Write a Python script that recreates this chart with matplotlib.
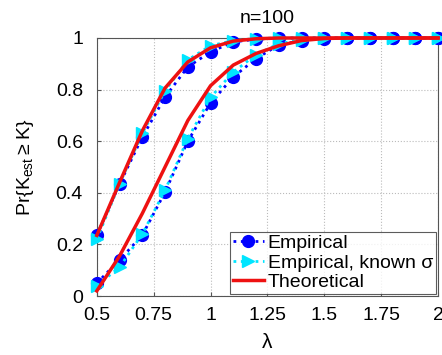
import numpy as np
import matplotlib
matplotlib.use("Agg")
import matplotlib.pyplot as plt

plt.rcParams['font.family'] = ['Liberation Sans', 'DejaVu Sans']
plt.rcParams['mathtext.fontset'] = 'custom'
plt.rcParams['mathtext.rm'] = 'Liberation Sans'

lam = [0.5, 0.6, 0.7, 0.8, 0.9, 1.0, 1.1, 1.2, 1.3, 1.4, 1.5, 1.6, 1.7, 1.8, 1.9, 2.0]

emp_a = [0.236, 0.434, 0.616, 0.771, 0.888, 0.946, 0.985, 0.995, 0.999, 1, 1, 1, 1, 1, 1, 1]
known_a = [0.22, 0.435, 0.63, 0.795, 0.915, 0.97, 0.99, 0.998, 1, 1, 1, 1, 1, 1, 1, 1]
theo_a = [0.235, 0.44, 0.64, 0.806, 0.907, 0.962, 0.988, 0.997, 1, 1, 1, 1, 1, 1, 1, 1]

emp_b = [0.05, 0.14, 0.236, 0.403, 0.60, 0.748, 0.849, 0.92, 0.973, 0.99, 0.998, 1, 1, 1, 1, 1]
known_b = [0.04, 0.112, 0.24, 0.41, 0.61, 0.77, 0.868, 0.935, 0.978, 0.993, 0.999, 1, 1, 1, 1, 1]
theo_b = [0.02, 0.155, 0.32, 0.50, 0.68, 0.815, 0.895, 0.94, 0.97, 0.99, 0.998, 1, 1, 1, 1, 1]

xticks = [0.5, 0.75, 1, 1.25, 1.5, 1.75, 2]
xticklabels = ['0.5', '0.75', '1', '1.25', '1.5', '1.75', '2']
yticks = [0, 0.2, 0.4, 0.6, 0.8, 1]
yticklabels = ['0', '0.2', '0.4', '0.6', '0.8', '1']

fig = plt.figure(figsize=(4.42, 3.55), dpi=100)
ax = fig.add_axes([0.219, 0.166, 0.772, 0.727])

blue = '#0000ff'
cyan = '#00e5ff'
red = '#ee1111'

for emp, known, theo, lbl in [(emp_a, known_a, theo_a, True), (emp_b, known_b, theo_b, False)]:
    ax.plot(lam, emp, linestyle=':', color=blue, lw=2, marker='o', ms=8.5,
            mfc=blue, mec=blue, clip_on=False, zorder=3,
            label='Empirical' if lbl else None)
    ax.plot(lam, known, linestyle=':', color=cyan, lw=2, marker='>', ms=8.5,
            mfc=cyan, mec=cyan, clip_on=False, zorder=4,
            label='Empirical, known σ' if lbl else None)
    ax.plot(lam, theo, linestyle='-', color=red, lw=2.5, clip_on=False, zorder=5,
            label='Theoretical' if lbl else None)

ax.set_xlim(0.5, 2)
ax.set_ylim(0, 1)
ax.set_xticks(xticks)
ax.set_xticklabels(xticklabels)
ax.set_yticks(yticks)
ax.set_yticklabels(yticklabels)
ax.tick_params(labelsize=14, direction='in', length=3, color='#555555')
ax.tick_params(axis='y', pad=10)
ax.tick_params(axis='x', pad=8)
ax.grid(True, linestyle=':', color='#bbbbbb', lw=0.8)
for s in ax.spines.values():
    s.set_color('#555555')
    s.set_linewidth(0.8)

ax.set_title('n=100', fontsize=14, pad=11)
ax.set_xlabel('λ', fontsize=15, labelpad=6)
ax.set_ylabel(r'Pr{K$_{\mathrm{est}}$$\geq$K}', fontsize=14, labelpad=14)

leg = ax.legend(loc='lower right', fontsize=14, frameon=True, fancybox=False,
                edgecolor='#333333', borderpad=0.15, labelspacing=0.1,
                handlelength=1.6, handletextpad=0.2, borderaxespad=0.1)
leg.get_frame().set_linewidth(0.8)
leg.set_zorder(10)

fig.savefig('out.png', dpi=100)
